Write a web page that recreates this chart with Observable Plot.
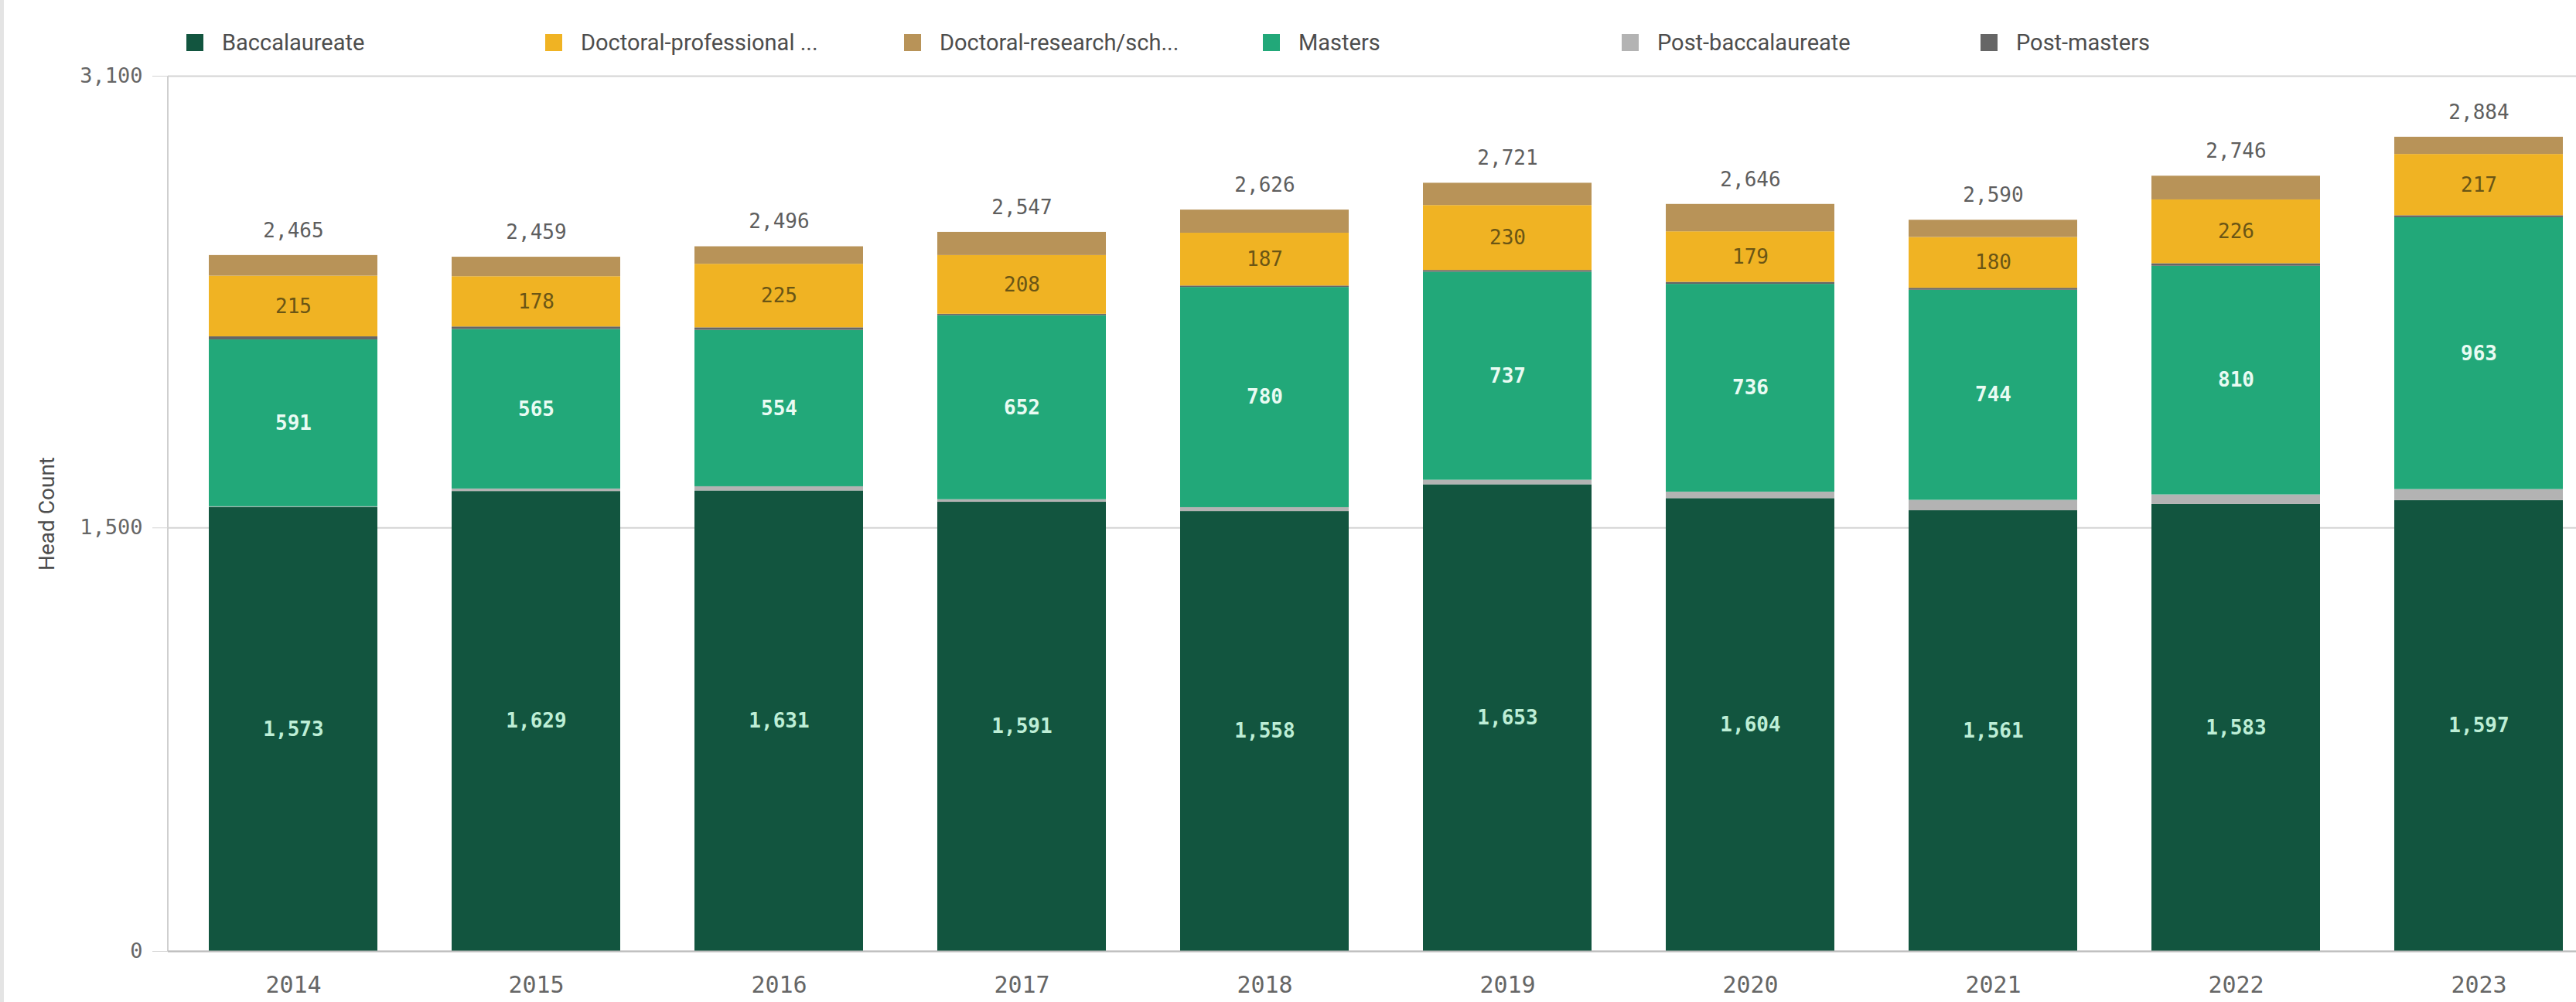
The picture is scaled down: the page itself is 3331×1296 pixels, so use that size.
<!DOCTYPE html>
<html>
<head>
<meta charset="utf-8">
<script src="https://cdn.jsdelivr.net/npm/d3@7"></script>
<script src="https://cdn.jsdelivr.net/npm/@observablehq/plot@0.6"></script>
<style>
  html, body { margin: 0; padding: 0; background: #fff; overflow: hidden; }
  #wrap { position: relative; width: 3331px; height: 1296px; overflow: hidden; }
  #leftbar { position: absolute; left: 0; top: 0; width: 5px; height: 1296px; background: #e4e4e4; }
  #legend { position: absolute; left: 0; top: 0; width: 3331px; height: 100px; font-family: Roboto, "Noto Sans", sans-serif; font-size: 29px; color: #4d4d4d; }
  .item { position: absolute; top: 38px; height: 34px; display: flex; align-items: center; white-space: nowrap; }
  .sw { width: 22px; height: 22px; margin-right: 24px; }
  #chart { position: absolute; left: 0; top: 0; }
  #chart svg { max-width: none !important; }
</style>
</head>
<body>
<div id="wrap">
  <div id="leftbar"></div>
  <div id="chart"></div>
  <div id="legend"></div>
</div>
<script>
// ---- data ----
const years = ["2014","2015","2016","2017","2018","2019","2020","2021","2022","2023"];
const baccalaureate     = [1573, 1629, 1631, 1591, 1558, 1653, 1604, 1561, 1583, 1597];
const postBaccalaureate = [2, 9, 15, 9, 14, 16, 23, 37, 34, 39];
const masters           = [591, 565, 554, 652, 780, 737, 736, 744, 810, 963];
const postMasters       = [11, 9, 9, 5, 5, 6, 7, 7, 9, 7];
const doctoralProf      = [215, 178, 225, 208, 187, 230, 179, 180, 226, 217];
const doctoralRes       = [73, 69, 62, 82, 82, 79, 97, 61, 84, 61];
const totals            = [2465, 2459, 2496, 2547, 2626, 2721, 2646, 2590, 2746, 2884];
const yTicks = [0, 1500, 3100];

const categories = ["Baccalaureate", "Doctoral-professional ...", "Doctoral-research/sch...", "Masters", "Post-baccalaureate", "Post-masters"];
const colors     = ["#12553f", "#f0b323", "#b89358", "#22a879", "#b3b3b3", "#666666"];
const stackOrder = ["Baccalaureate", "Post-baccalaureate", "Masters", "Post-masters", "Doctoral-professional ...", "Doctoral-research/sch..."];
const seriesByCat = {
  "Baccalaureate": baccalaureate,
  "Post-baccalaureate": postBaccalaureate,
  "Masters": masters,
  "Post-masters": postMasters,
  "Doctoral-professional ...": doctoralProf,
  "Doctoral-research/sch...": doctoralRes
};

const rows = [];
stackOrder.forEach(cat => years.forEach((y, i) => rows.push({year: y, category: cat, value: seriesByCat[cat][i]})));
const totalRows = years.map((y, i) => ({year: y, total: totals[i]}));

const fmt = d3.format(",");
const mono = "'DejaVu Sans Mono', 'Liberation Mono', monospace";

function segLabels(cat, color, weight) {
  return Plot.text(rows, Plot.stackY({
    x: "year", y: "value", z: "category",
    order: stackOrder,
    text: d => d.category === cat ? fmt(d.value) : "",
    fill: color, fontSize: 26, fontWeight: weight, fontFamily: mono
  }));
}

const yAxisLine = (index, scales, values, dims) => {
  const l = document.createElementNS("http://www.w3.org/2000/svg", "line");
  l.setAttribute("x1", dims.marginLeft); l.setAttribute("x2", dims.marginLeft);
  l.setAttribute("y1", scales.y(3100)); l.setAttribute("y2", scales.y(0));
  l.setAttribute("stroke", "#cfcfcf"); l.setAttribute("stroke-width", 2);
  return l;
};

const plot = Plot.plot({
  width: 3367,
  height: 1296,
  marginTop: 98,
  marginBottom: 66,
  marginLeft: 217,
  marginRight: 0,
  style: {background: "transparent", fontFamily: mono},
  x: {domain: years, paddingInner: 0.307, paddingOuter: 0.159, label: null},
  y: {domain: [0, 3100], label: null},
  color: {domain: categories, range: colors},
  marks: [
    Plot.gridY(yTicks, {stroke: "#d4d4d4", strokeOpacity: 1, strokeWidth: 2}),
    yAxisLine,
    Plot.barY(rows, Plot.stackY({x: "year", y: "value", fill: "category", order: stackOrder})),
    Plot.ruleY([0], {stroke: "#bdbdbd", strokeWidth: 2}),
    Plot.axisY({ticks: yTicks, tickFormat: fmt, tickSize: 20, tickPadding: 13, fontSize: 27, fill: "#666", stroke: "#d4d4d4",
                label: "Head Count", labelAnchor: "center", labelOffset: 167, labelArrow: "none"}),
    Plot.axisX({tickSize: 0, tickPadding: 32, fontSize: 30, fill: "#666", label: null}),
    segLabels("Baccalaureate", "#bdeed6", 700),
    segLabels("Masters", "#e9fbf3", 700),
    segLabels("Doctoral-professional ...", "#6a5515", 400),
    Plot.text(totalRows, {x: "year", y: "total", text: d => fmt(d.total), dy: -32, fontSize: 26, fill: "#5e5e5e", fontFamily: mono})
  ]
});
document.getElementById("chart").appendChild(plot);

// y-axis title: plain text, sans font
plot.querySelectorAll("text").forEach(t => {
  if (t.textContent.startsWith("Head Count")) {
    t.textContent = "Head Count";
    t.setAttribute("font-family", "Roboto, 'Noto Sans', sans-serif");
    t.style.fontFamily = "Roboto, 'Noto Sans', sans-serif";
    t.setAttribute("font-size", 28);
    t.setAttribute("fill", "#4d4d4d");
  }
});

// legend
const legend = document.getElementById("legend");
categories.forEach((c, i) => {
  const it = document.createElement("div");
  it.className = "item";
  it.style.left = (241 + i * 464) + "px";
  const sw = document.createElement("div");
  sw.className = "sw";
  sw.style.background = colors[i];
  const tx = document.createElement("span");
  tx.textContent = c;
  it.appendChild(sw); it.appendChild(tx);
  legend.appendChild(it);
});
</script>
</body>
</html>
